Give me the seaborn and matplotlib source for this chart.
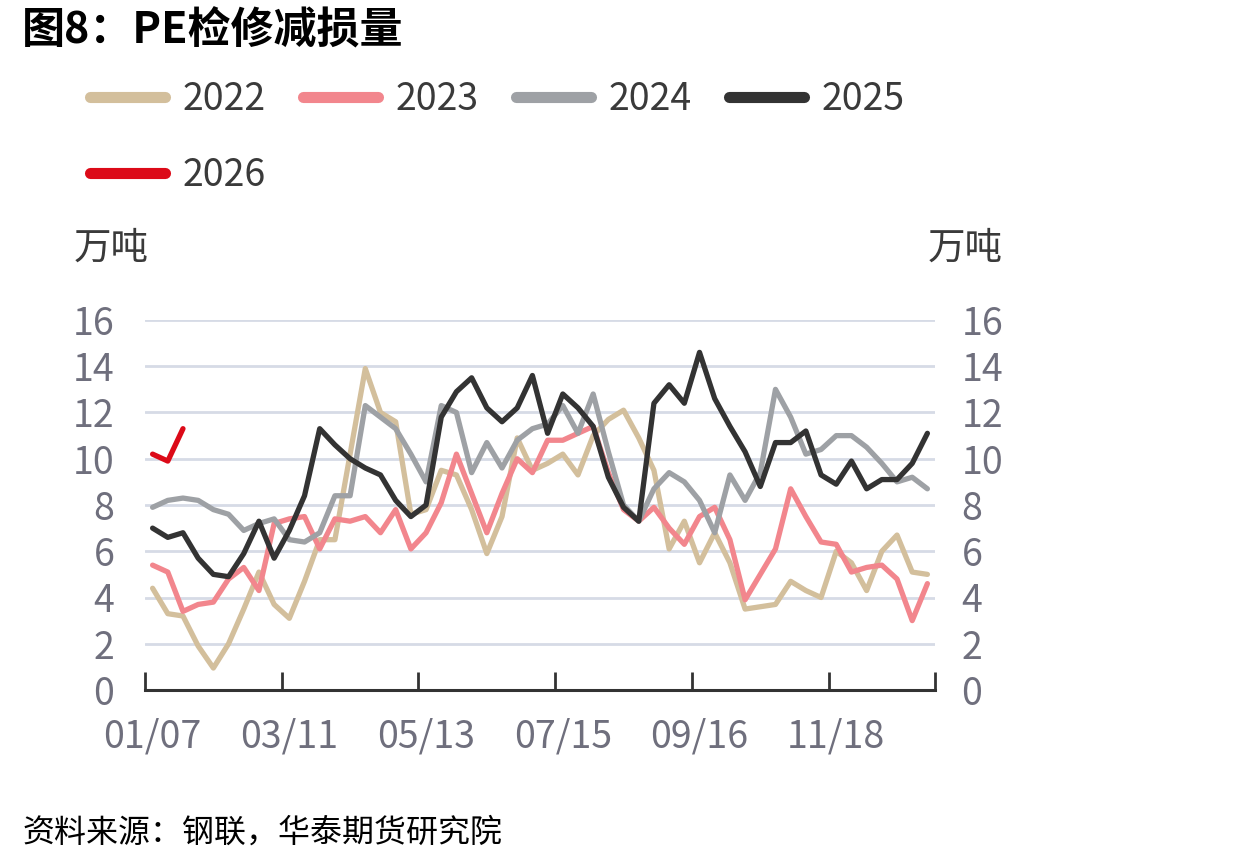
import numpy as np
import pandas as pd
import seaborn as sns
from matplotlib import pyplot as plt

#------------------------------------------------------------------------------
# Data (weekly)
#------------------------------------------------------------------------------
y2022 = [4.4, 3.3, 3.2, 1.9, 0.95, 2.0, 3.5, 5.1, 3.7, 3.1,
         4.7, 6.5, 6.5, 10.2, 13.9, 12.0, 11.6, 7.6, 7.8, 9.5,
         9.3, 7.8, 5.9, 7.5, 10.9, 9.5, 9.8, 10.2, 9.3, 11.0,
         11.7, 12.1, 10.9, 9.5, 6.1, 7.3, 5.5, 6.8, 5.5, 3.5,
         3.6, 3.7, 4.7, 4.3, 4.0, 6.0, 5.5, 4.3, 6.0, 6.7,
         5.1, 5.0]
y2023 = [5.4, 5.1, 3.4, 3.7, 3.8, 4.8, 5.3, 4.3, 7.2, 7.4,
         7.5, 6.1, 7.4, 7.3, 7.5, 6.8, 7.8, 6.1, 6.8, 8.1,
         10.2, 8.5, 6.8, 8.5, 10.0, 9.4, 10.8, 10.8, 11.1, 11.4,
         9.4, 7.8, 7.3, 7.9, 7.0, 6.3, 7.5, 7.9, 6.5, 3.9,
         5.0, 6.1, 8.7, 7.5, 6.4, 6.3, 5.1, 5.3, 5.4, 4.8,
         3.0, 4.6]
y2024 = [7.9, 8.2, 8.3, 8.2, 7.8, 7.6, 6.9, 7.2, 7.4, 6.5,
         6.4, 6.8, 8.4, 8.4, 12.3, 11.8, 11.3, 10.2, 9.0, 12.3,
         12.0, 9.4, 10.7, 9.6, 10.8, 11.3, 11.5, 12.3, 11.1, 12.8,
         10.3, 8.0, 7.3, 8.7, 9.4, 9.0, 8.2, 6.8, 9.3, 8.2,
         9.4, 13.0, 11.8, 10.2, 10.4, 11.0, 11.0, 10.5, 9.8, 9.0,
         9.2, 8.7]
y2025 = [7.0, 6.6, 6.8, 5.7, 5.0, 4.9, 5.9, 7.3, 5.7, 6.9,
         8.4, 11.3, 10.6, 10.0, 9.6, 9.3, 8.2, 7.5, 8.0, 11.8,
         12.9, 13.5, 12.2, 11.6, 12.2, 13.6, 11.1, 12.8, 12.2, 11.4,
         9.2, 7.9, 7.3, 12.4, 13.2, 12.4, 14.6, 12.6, 11.4, 10.3,
         8.8, 10.7, 10.7, 11.2, 9.3, 8.9, 9.9, 8.7, 9.1, 9.1,
         9.8, 11.1]
y2026 = [10.2, 9.9, 11.3]

years = ['2022', '2023', '2024', '2025', '2026']
series = [y2022, y2023, y2024, y2025, y2026]
colors = ['#d3bf9c', '#f2868d', '#9ea1a5', '#333333', '#dc0a18']
tick_labels = ['01/07', '03/11', '05/13', '07/15', '09/16', '11/18']
n_weeks = 52

df = pd.concat([pd.DataFrame({'week': np.arange(len(v)), 'value': v, 'year': y})
                for y, v in zip(years, series)], ignore_index=True)

#------------------------------------------------------------------------------
# Plot figure
#------------------------------------------------------------------------------
sns.set_theme(style='white')
plt.rcParams['font.family'] = ['Noto Sans CJK SC', 'DejaVu Sans']

fig = plt.figure(figsize=(12.4, 8.66), dpi=100)
ax = fig.add_axes([145/1240, 1-690/866, 790/1240, 370/866])

sns.lineplot(data=df, x='week', y='value', hue='year', hue_order=years,
             palette=dict(zip(years, colors)), linewidth=3.8, ax=ax)

ax.set_xlim(-0.5, n_weeks - 0.5)
ax.set_ylim(0, 16)
ax.set_yticks(range(0, 17, 2))
ax.yaxis.grid(True, color='#d6dbe6', linewidth=2)
ax.set_axisbelow(True)
ax.set_xlabel('')
ax.set_ylabel('')

label_color = '#6f6f7d'
ax.set_xticks(np.arange(0, n_weeks, 9))
ax.set_xticklabels(tick_labels)
ax.set_xticks(list(np.arange(-0.5, n_weeks, 9)) + [n_weeks - 0.5], minor=True)
ax.tick_params(axis='x', which='major', length=0, pad=20, labelsize=27, labelcolor=label_color)
ax.tick_params(axis='x', which='minor', direction='in', length=13, width=2, color='#333333', bottom=True)
ax.tick_params(axis='y', length=0, pad=22, labelsize=27, labelcolor=label_color)

for side in ['top', 'right', 'left']:
    ax.spines[side].set_visible(False)
ax.spines['bottom'].set_color('#333333')
ax.spines['bottom'].set_linewidth(2.2)

# right-hand axis repeats the scale
ax2 = ax.twinx()
ax2.set_ylim(ax.get_ylim())
ax2.set_yticks(range(0, 17, 2))
ax2.tick_params(axis='y', length=0, pad=19, labelsize=27, labelcolor=label_color)
ax2.grid(False)
for side in ['top', 'right', 'left', 'bottom']:
    ax2.spines[side].set_visible(False)

# legend, filled row by row like the reference
handles, labels = ax.get_legend_handles_labels()
order = [0, 4, 1, 2, 3]
ax.legend([handles[i] for i in order], [labels[i] for i in order],
          loc='upper left', bbox_to_anchor=(90/1240, 1-80/866),
          bbox_transform=fig.transFigure, ncol=4, frameon=False,
          fontsize=27, handlelength=2.0, handletextpad=0.48,
          columnspacing=0.98, labelspacing=0.98, borderpad=0, borderaxespad=0)
leg = ax.get_legend()
for h in leg.get_lines():
    h.set_linewidth(8)
    h.set_solid_capstyle('round')
for t in leg.get_texts():
    t.set_color('#3a3a3a')

# text
fig.text(22/1240, 1-30/866, '图8：PE检修减损量', fontsize=31, fontweight='bold',
         color='black', va='center', ha='left')
fig.text(74/1240, 1-248/866, '万吨', fontsize=27, color='#3a3a3a', va='center', ha='left')
fig.text(928/1240, 1-248/866, '万吨', fontsize=27, color='#3a3a3a', va='center', ha='left')
fig.text(22/1240, 1-833/866, '资料来源：钢联，华泰期货研究院', fontsize=23, style='italic',
         color='black', va='center', ha='left')

#------------------------------------------------------------------------------
# Save figure
#------------------------------------------------------------------------------
plt.savefig('out.png', dpi=100)
